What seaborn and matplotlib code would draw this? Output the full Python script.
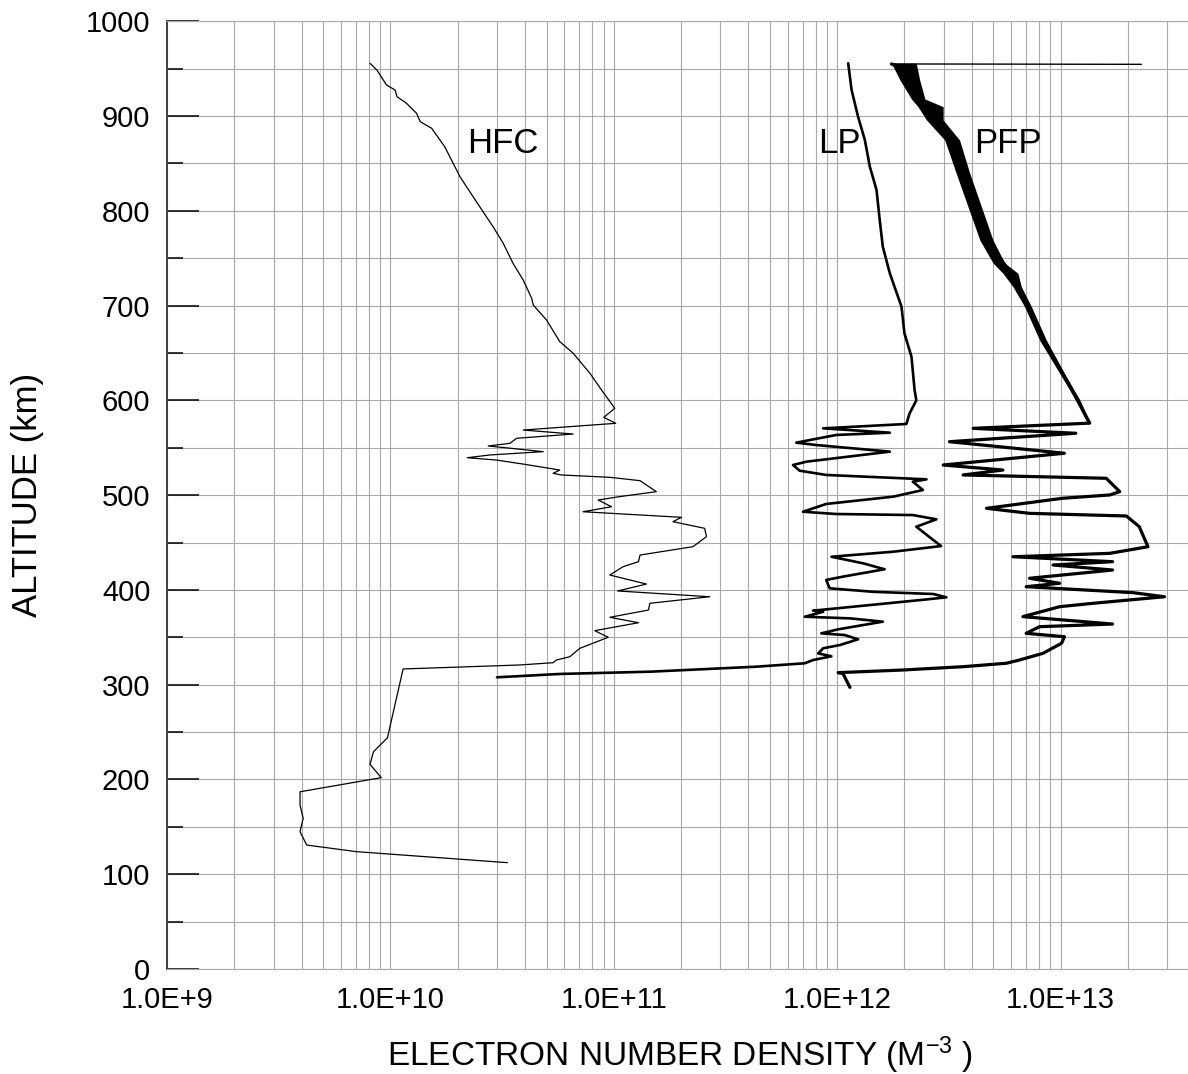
import numpy as np
import pandas as pd
import matplotlib
matplotlib.use("Agg")
import matplotlib.pyplot as plt
from matplotlib.ticker import LogLocator, FixedLocator, FixedFormatter, NullFormatter
import seaborn as sns

# ---------------- data ----------------
hfc_alt = [955.7, 952.1, 948.6, 938.0, 932.8, 927.5, 920.5, 913.5, 902.9, 894.1, 887.1,
           867.7, 850.1, 836.0, 825.5, 804.4, 783.3, 765.7, 744.6, 727.0, 707.7, 700.6,
           684.8, 662.0, 649.7, 628.6, 611.0, 591.6, 582.1, 575.8, 568.7, 564.5, 560.0,
           554.7, 551.9, 545.9, 542.4, 539.5, 537.0, 532.5, 526.5, 523.0, 521.3, 518.8,
           515.3, 503.7, 498.4, 494.9, 487.8, 482.5, 476.6, 472.0, 465.0, 456.2, 445.6,
           436.8, 429.8, 424.5, 415.7, 406.2, 398.9, 392.8, 385.9, 378.8, 371.1, 365.4,
           357.0, 350.0, 338.4, 329.5, 326.0, 323.2, 320.8, 316.6, 244.0, 229.3, 216.0,
           201.9, 187.0, 173.0, 159.0, 144.9, 130.8, 123.8, 112.2]
hfc_ne = [8.1e9, 8.4e9, 8.7e9, 9.3e9, 9.6e9, 1.05e10, 1.07e10, 1.18e10, 1.31e10, 1.36e10, 1.53e10,
          1.75e10, 1.91e10, 2.05e10, 2.19e10, 2.51e10, 2.88e10, 3.20e10, 3.54e10, 3.93e10, 4.29e10, 4.36e10,
          5.0e10, 5.73e10, 6.58e10, 7.82e10, 8.81e10, 1.01e11, 9.02e10, 1.02e11, 3.93e10, 6.58e10, 3.67e10,
          3.43e10, 2.74e10, 4.83e10, 2.79e10, 2.21e10, 2.99e10, 4.0e10, 5.73e10, 5.35e10, 5.82e10, 9.6e10,
          1.31e11, 1.55e11, 1.06e11, 8.51e10, 9.77e10, 7.29e10, 2.01e11, 1.84e11, 2.55e11, 2.60e11, 2.26e11,
          1.31e11, 1.29e11, 1.10e11, 9.6e10, 1.40e11, 1.04e11, 2.69e11, 1.45e11, 1.43e11, 9.6e10, 1.29e11,
          8.22e10, 9.44e10, 7.05e10, 6.35e10, 5.53e10, 5.35e10, 3.79e10, 1.14e10, 9.7e9, 8.4e9, 8.1e9,
          9.1e9, 3.94e9, 3.94e9, 4.07e9, 3.94e9, 4.22e9, 7.06e9, 3.34e10]

lp_alt = [955.7, 927.5, 899.3, 874.7, 846.6, 822.0, 790.3, 762.2, 734.1, 698.9, 670.8, 646.1,
          611.0, 600.0, 586.4, 575.1, 570.5, 565.9, 563.5, 555.4, 552.9, 545.9, 535.3, 531.8,
          525.8, 521.3, 516.7, 514.2, 505.4, 498.4, 490.7, 482.5, 480.1, 479.0, 474.5, 466.7,
          452.7, 446.3, 440.3, 435.0, 428.0, 421.8, 414.0, 410.5, 401.7, 398.0, 395.7, 392.2,
          389.4, 378.1, 377.0, 371.7, 370.0, 366.5, 358.4, 354.2, 352.4, 347.9, 341.9, 338.4,
          333.0, 330.0, 326.0, 322.6, 319.0, 313.7, 311.3, 307.8]
lp_ne = [1.12e12, 1.16e12, 1.24e12, 1.33e12, 1.40e12, 1.50e12, 1.55e12, 1.60e12, 1.72e12, 1.94e12, 2.00e12, 2.15e12,
         2.22e12, 2.26e12, 2.11e12, 2.04e12, 8.65e11, 1.72e12, 9.9e11, 6.56e11, 8.05e11, 1.72e12, 7.28e11, 6.34e11,
         6.79e11, 8.93e11, 2.51e12, 2.18e12, 2.42e12, 1.78e12, 8.93e11, 7.03e11, 9.9e11, 2.18e12, 2.78e12, 2.26e12,
         2.69e12, 2.92e12, 1.78e12, 9.42e11, 1.31e12, 1.63e12, 1.06e12, 8.93e11, 9.25e11, 1.45e12, 2.69e12, 3.08e12,
         2.38e12, 7.8e11, 8.65e11, 7.16e11, 1.14e12, 1.60e12, 1.01e12, 8.49e11, 1.08e12, 1.24e12, 1.03e12, 8.65e11,
         8.22e11, 9.42e11, 7.8e11, 7.16e11, 4.35e11, 1.45e11, 5.7e10, 3.0e10]

# thin spike at the top of the PFP profile
pfp_spike_alt = [954.6, 955.0]
pfp_spike_ne = [2.30e13, 1.75e12]

pfp_alt = [955.0, 950.0, 935.0, 915.0, 903.0, 890.0, 875.0, 840.0, 805.0, 770.0, 735.0,
           700.0, 664.0, 629.0, 600.0, 576.0, 570.5, 565.3, 556.4, 544.2, 531.8, 526.5, 521.3,
           517.8, 503.7, 500.2, 496.7, 486.1, 480.8, 478.0, 466.7, 445.6, 438.6, 435.0, 429.8,
           426.3, 421.0, 412.3, 407.0, 403.4, 397.1, 392.8, 385.9, 382.3, 371.8, 364.0, 361.2,
           354.2, 350.6, 343.7, 333.1, 326.1, 322.6, 319.0, 315.5, 312.7, 312.0, 297.2]
pfp_ne = [1.75e12, 2.0e12, 2.14e12, 2.4e12, 2.63e12, 2.95e12, 3.27e12, 3.66e12, 4.12e12, 4.65e12, 5.96e12,
          7.14e12, 8.34e12, 1.02e13, 1.19e13, 1.35e13, 4.06e12, 1.17e13, 3.18e12, 1.04e13, 2.98e12, 5.52e12, 3.66e12,
          1.60e13, 1.84e13, 1.66e13, 1.02e13, 4.66e12, 7.26e12, 1.97e13, 2.25e13, 2.46e13, 1.66e13, 6.12e12, 1.71e13,
          9.25e12, 1.71e13, 7.26e12, 9.9e12, 7.01e12, 2.11e13, 2.92e13, 1.40e13, 9.9e12, 6.78e12, 1.71e13, 8.05e12,
          7.01e12, 1.04e13, 1.01e13, 8.34e12, 6.56e12, 5.71e12, 3.66e12, 1.97e12, 1.01e12, 1.06e12, 1.14e12]

# envelope of the thick (noisy) upper PFP trace
pfp_band_alt = [955.7, 938.0, 918.0, 909.9, 895.9, 874.7, 839.6, 804.4, 769.2, 745.0, 734.1,
                720.0, 698.9, 663.7, 628.6, 600.4, 575.8]
pfp_band_lo = [1.75e12, 1.91e12, 2.15e12, 2.30e12, 2.51e12, 3.03e12, 3.41e12, 3.85e12, 4.35e12, 4.98e12, 5.52e12,
               6.12e12, 6.90e12, 8.05e12, 9.9e12, 1.17e13, 1.32e13]
pfp_band_hi = [2.26e12, 2.34e12, 2.47e12, 2.98e12, 2.98e12, 3.53e12, 3.92e12, 4.42e12, 4.98e12, 5.62e12, 6.44e12,
               6.67e12, 7.40e12, 8.63e12, 1.04e13, 1.22e13, 1.36e13]

x_ticks = [1e9, 1e10, 1e11, 1e12, 1e13]
x_tick_labels = ["1.0E+9", "1.0E+10", "1.0E+11", "1.0E+12", "1.0E+13"]
y_ticks = [0, 100, 200, 300, 400, 500, 600, 700, 800, 900, 1000]
series_labels = ["HFC", "LP", "PFP"]
series_label_pos = [(2.2e10, 871), (8.2e11, 871), (4.12e12, 871)]

# ---------------- style ----------------
sns.set_style("white")
plt.rcParams["font.family"] = ["Liberation Sans", "DejaVu Sans"]
plt.rcParams["mathtext.fontset"] = "custom"
plt.rcParams["mathtext.rm"] = "Liberation Sans"
plt.rcParams["mathtext.it"] = "Liberation Sans"
plt.rcParams["mathtext.default"] = "regular"
for k in ["text.color", "axes.labelcolor", "xtick.color", "ytick.color"]:
    plt.rcParams[k] = "black"

W, H = 1188, 1074
fig = plt.figure(figsize=(W / 100, H / 100), dpi=100)
left_px, right_px, top_px, bot_px = 167, 1188, 21.3, 969
ax = fig.add_axes([left_px / W, 1 - bot_px / H, (right_px - left_px) / W, (bot_px - top_px) / H])

df_hfc = pd.DataFrame({"ne": hfc_ne, "alt": hfc_alt})
df_lp = pd.DataFrame({"ne": lp_ne, "alt": lp_alt})
df_pfp = pd.DataFrame({"ne": pfp_ne, "alt": pfp_alt})
df_spike = pd.DataFrame({"ne": pfp_spike_ne, "alt": pfp_spike_alt})

ax.fill_betweenx(pfp_band_alt, pfp_band_lo, pfp_band_hi, color="black", lw=0, zorder=3)
sns.lineplot(data=df_hfc, x="ne", y="alt", sort=False, estimator=None, color="black", lw=0.9, ax=ax, zorder=3)
sns.lineplot(data=df_lp, x="ne", y="alt", sort=False, estimator=None, color="black", lw=1.9, ax=ax, zorder=3)
sns.lineplot(data=df_pfp, x="ne", y="alt", sort=False, estimator=None, color="black", lw=2.3, ax=ax, zorder=3)
sns.lineplot(data=df_spike, x="ne", y="alt", sort=False, estimator=None, color="black", lw=1.0, ax=ax, zorder=3)

ax.set_xscale("log")
decades = (right_px - left_px) / 223.4
ax.set_xlim(1e9, 1e9 * 10 ** decades)
ax.set_ylim(0, 1000)

ax.xaxis.set_major_locator(FixedLocator(x_ticks))
ax.xaxis.set_major_formatter(FixedFormatter(x_tick_labels))
ax.xaxis.set_minor_locator(LogLocator(base=10, subs=np.arange(2, 10), numticks=50))
ax.xaxis.set_minor_formatter(NullFormatter())
ax.set_yticks(y_ticks)
ax.set_yticks(np.arange(50, 1000, 100), minor=True)

ax.tick_params(axis="x", which="both", length=0, pad=12.5, labelsize=21, colors="black")
ax.tick_params(axis="y", which="major", direction="in", left=True, length=23, width=1.1, color="black",
               pad=12, labelsize=21, labelcolor="black")
ax.tick_params(axis="y", which="minor", direction="in", left=True, length=11.5, width=1.1, color="black")

ax.grid(True, which="both", axis="both", color="#a8a8a8", linewidth=0.8, zorder=0)
ax.set_axisbelow(True)

for s in ["top", "bottom"]:
    ax.spines[s].set_color("#a8a8a8")
    ax.spines[s].set_linewidth(0.8)
ax.spines["right"].set_visible(False)
ax.spines["left"].set_color("#404040")
ax.spines["left"].set_linewidth(1.4)

ax.set_xlabel("")
ax.set_ylabel("")
fig.text(680 / W, 1 - 1055 / H, "ELECTRON NUMBER DENSITY (M$^{-3}$ )", ha="center", va="center",
         fontsize=24, color="black")
fig.text(28 / W, 1 - 495 / H, "ALTITUDE (km)", ha="center", va="center", rotation=90, fontsize=25,
         color="black")

for lab, (xx, yy) in zip(series_labels, series_label_pos):
    ax.text(xx, yy, lab, ha="left", va="center", fontsize=25, zorder=4, color="black")

fig.savefig("out.png", dpi=100)
